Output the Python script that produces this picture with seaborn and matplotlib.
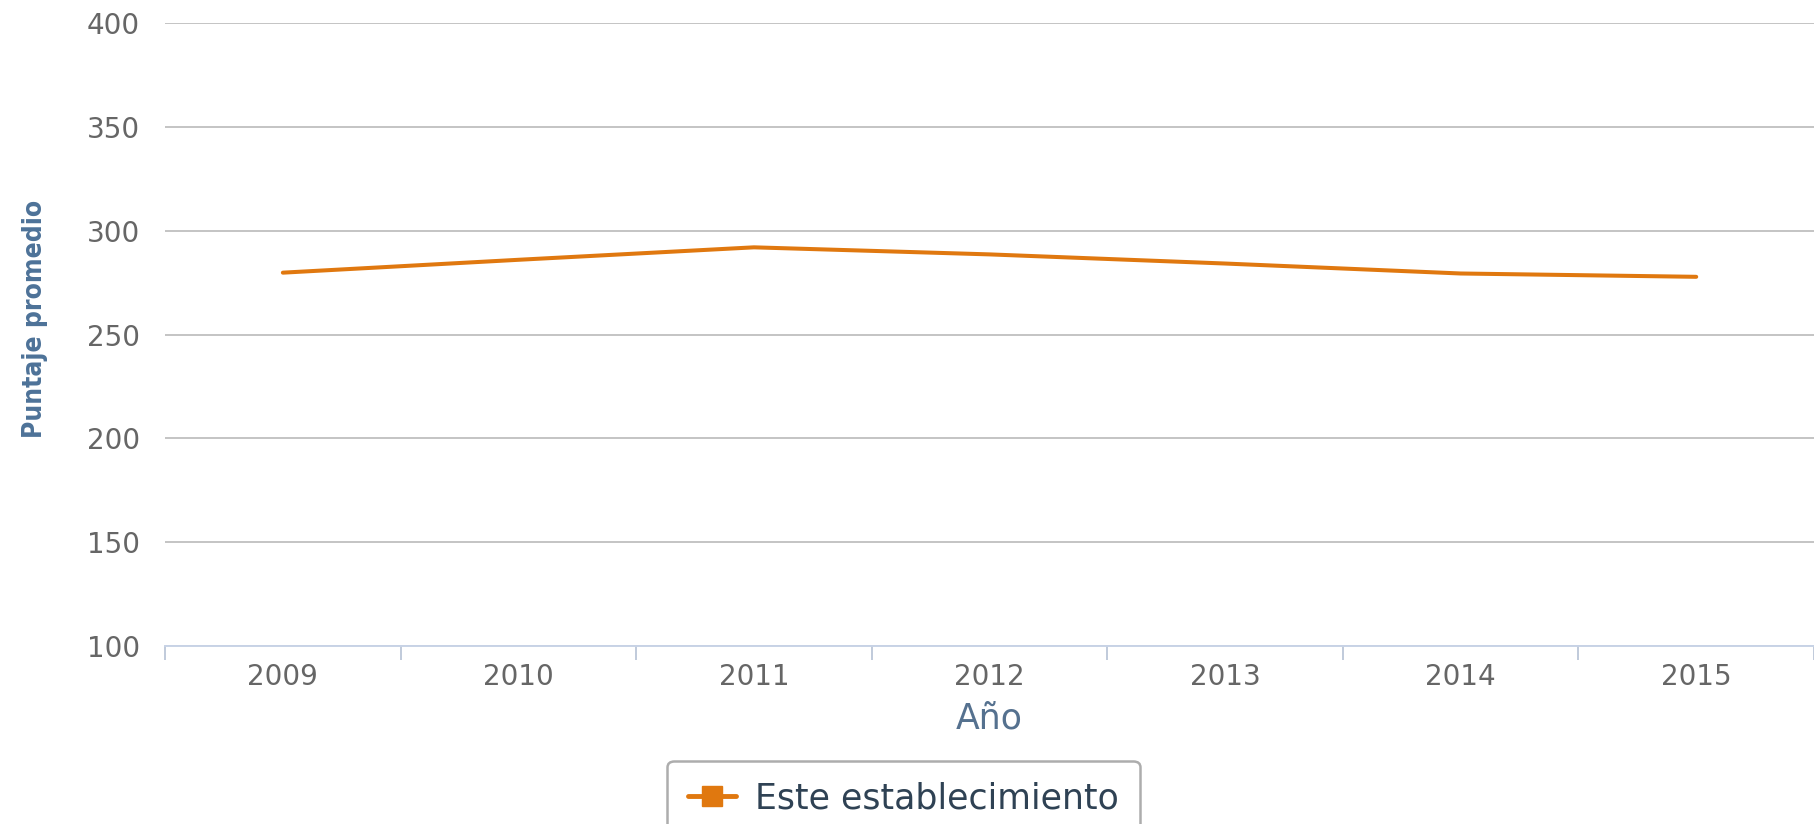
import seaborn as sns
import matplotlib.pyplot as plt
import pandas as pd
from matplotlib.lines import Line2D
from matplotlib.ticker import MultipleLocator
from matplotlib import font_manager

years = [2009, 2010, 2011, 2012, 2013, 2014, 2015]
puntaje = [279.8, 286.0, 292.0, 288.6, 284.2, 279.4, 277.8]
serie = "Este establecimiento"

df = pd.DataFrame({"Año": years, "Puntaje": puntaje})

sns.set_style("white")
plt.rcParams["font.family"] = ["DejaVu Sans"]

naranja = "#E0780F"

fig = plt.figure(figsize=(18.14, 8.24), dpi=100)
ax = fig.add_axes([0.091, 0.216, 0.909, 0.756])

sns.lineplot(data=df, x="Año", y="Puntaje", color=naranja, linewidth=2.9,
             ax=ax, legend=False, solid_capstyle="round")

ax.set_ylim(100, 400)
ax.set_xlim(2008.5, 2015.5)
ax.set_yticks([100, 150, 200, 250, 300, 350, 400])
ax.set_xticks(years)
ax.xaxis.set_minor_locator(MultipleLocator(1, offset=0.5))
ax.grid(axis="y", color="#c4c4c4", linewidth=1.4)
ax.set_axisbelow(True)

for s in ["top", "right", "left"]:
    ax.spines[s].set_visible(False)
ax.spines["bottom"].set_color("#c8d3e6")
ax.spines["bottom"].set_linewidth(1.4)

ax.tick_params(axis="y", length=0, pad=18, labelsize=20, labelcolor="#666666")
ax.tick_params(axis="x", which="major", bottom=False, length=0, pad=12,
               labelsize=20, labelcolor="#666666")
ax.tick_params(axis="x", which="minor", bottom=True, length=10, width=1.4,
               color="#c0cadb", direction="out")

ax.set_xlabel("Año", fontsize=25, color="#55718f", labelpad=8)

fams = [f.name for f in font_manager.fontManager.ttflist]
cond = [n for n in ["DejaVu Sans Condensed", "Liberation Sans Narrow"] if n in fams]
ax.set_ylabel("Puntaje promedio", fontsize=19, color="#4d7298",
              fontweight="bold", family=cond + ["DejaVu Sans"],
              fontstretch="condensed")
ax.yaxis.set_label_coords(-0.071, 0.525)

handle = Line2D([], [], color=naranja, linewidth=3.5, marker="s", markersize=14)
leg = fig.legend([handle], [serie], loc="upper center",
                 bbox_to_anchor=(0.498, 0.077), fontsize=25, frameon=True,
                 fancybox=True, handlelength=1.4, borderpad=0.6,
                 handletextpad=0.55, borderaxespad=0)
leg.get_frame().set_edgecolor("#999999")
leg.get_frame().set_linewidth(1.8)
for t in leg.get_texts():
    t.set_color("#2f4254")

fig.savefig("out.png", dpi=100)
